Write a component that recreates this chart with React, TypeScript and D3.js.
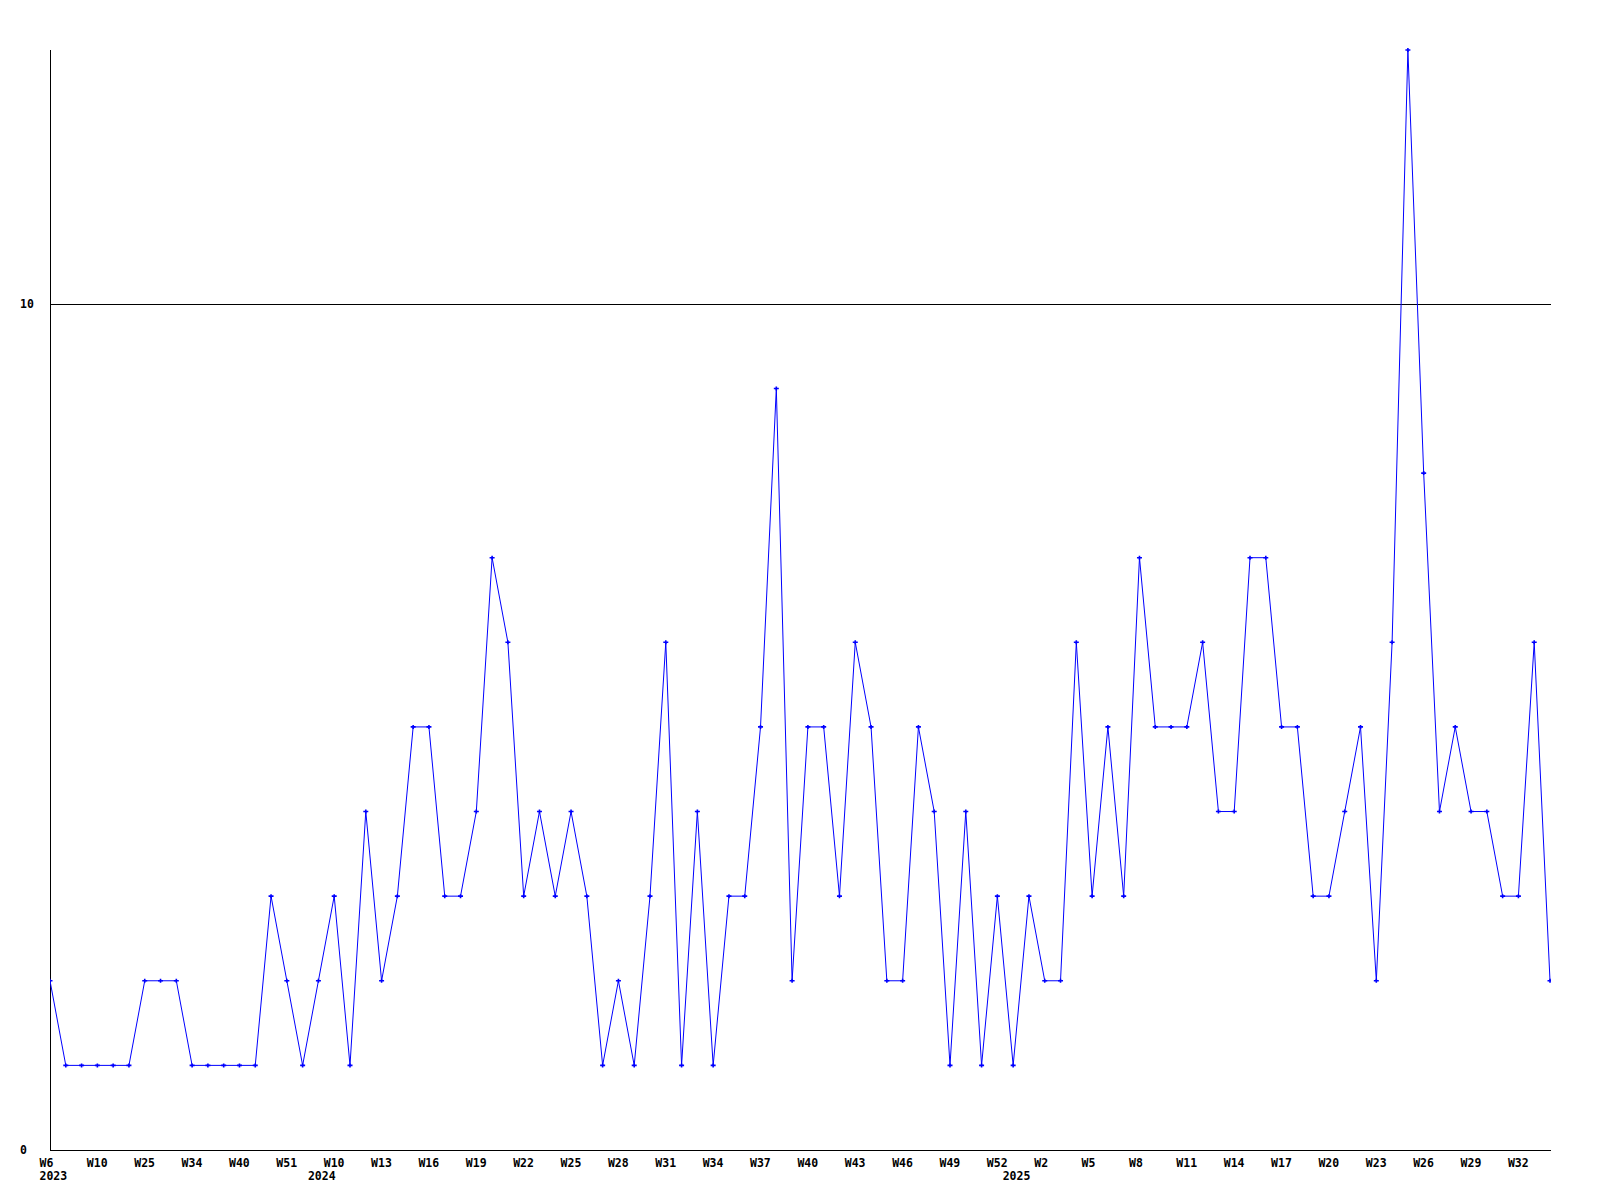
import React from "react";
import * as d3 from "d3";

const values: number[] = [
  2, 1, 1, 1, 1, 1, 2, 2, 2, 1,
  1, 1, 1, 1, 3, 2, 1, 2, 3, 1,
  4, 2, 3, 5, 5, 3, 3, 4, 7, 6,
  3, 4, 3, 4, 3, 1, 2, 1, 3, 6,
  1, 4, 1, 3, 3, 5, 9, 2, 5, 5,
  3, 6, 5, 2, 2, 5, 4, 1, 4, 1,
  3, 1, 3, 2, 2, 6, 3, 5, 3, 7,
  5, 5, 5, 6, 4, 4, 7, 7, 5, 5,
  3, 3, 4, 5, 2, 6, 13, 8, 4, 5,
  4, 4, 3, 3, 6, 2,
];

const weekLabels: string[] = [
  "W6", "W10", "W25", "W34", "W40", "W51", "W10", "W13", "W16", "W19", "W22",
  "W25", "W28", "W31", "W34", "W37", "W40", "W43", "W46", "W49", "W52", "W2",
  "W5", "W8", "W11", "W14", "W17", "W20", "W23", "W26", "W29", "W32",
];
const weekLabelStep = 3;

const yearLabels: string[] = ["2023", "2024", "2025"];
const yearIndex: number[] = [0, 17, 61];

const yTicks: number[] = [0, 10];
const gridValues: number[] = [10];

export default function App() {
  const W = 1600;
  const H = 1200;
  const left = 50;
  const right = 1550;
  const top = 50;
  const bottom = 1150;

  const x = d3.scaleLinear().domain([0, values.length - 1]).range([left, right]);
  const y = d3.scaleLinear().domain([0, d3.max(values) as number]).range([bottom, top]);

  const line = d3
    .line<number>()
    .x((_, i) => x(i))
    .y((d) => y(d));

  const font = "'DejaVu Sans Mono', monospace";

  return (
    <svg
      width={W}
      height={H}
      style={{ position: "absolute", left: 0, top: 0, background: "#fff" }}
    >
      <defs>
        <clipPath id="plot">
          <rect x={left} y={0} width={right - left + 1} height={H} />
        </clipPath>
      </defs>
      {gridValues.map((g) => (
        <line
          key={g}
          x1={left}
          x2={right + 1}
          y1={Math.round(y(g)) + 0.5}
          y2={Math.round(y(g)) + 0.5}
          stroke="#000"
          strokeWidth={1}
        />
      ))}
      <line x1={left + 0.5} x2={left + 0.5} y1={top} y2={bottom + 1} stroke="#000" strokeWidth={1} />
      <line x1={left} x2={right + 1} y1={bottom + 0.5} y2={bottom + 0.5} stroke="#000" strokeWidth={1} />

      <g clipPath="url(#plot)">
        <path d={line(values) || ""} fill="none" stroke="#0000ff" strokeWidth={1} />
        {values.map((v, i) => {
          const cx = x(i);
          const cy = y(v);
          return (
            <path
              key={i}
              d={`M${cx - 2.5},${cy}H${cx + 2.5}M${cx},${cy - 2}V${cy + 2}`}
              stroke="#0000ff"
              strokeWidth={1.6}
              fill="none"
            />
          );
        })}
      </g>

      {yTicks.map((t) => (
        <text
          key={t}
          x={20}
          y={y(t) + 4}
          fontFamily={font}
          fontWeight="bold"
          fontSize={11.5}
          fill="#000"
        >
          {t}
        </text>
      ))}

      {weekLabels.map((lab, k) => (
        <text
          key={k}
          x={x(k * weekLabelStep) - 10.5}
          y={1167}
          fontFamily={font}
          fontWeight="bold"
          fontSize={11.5}
          fill="#000"
        >
          {lab}
        </text>
      ))}

      {yearLabels.map((lab, k) => (
        <text
          key={lab}
          x={x(yearIndex[k]) - 10.5}
          y={1180}
          fontFamily={font}
          fontWeight="bold"
          fontSize={11.5}
          fill="#000"
        >
          {lab}
        </text>
      ))}
    </svg>
  );
}
